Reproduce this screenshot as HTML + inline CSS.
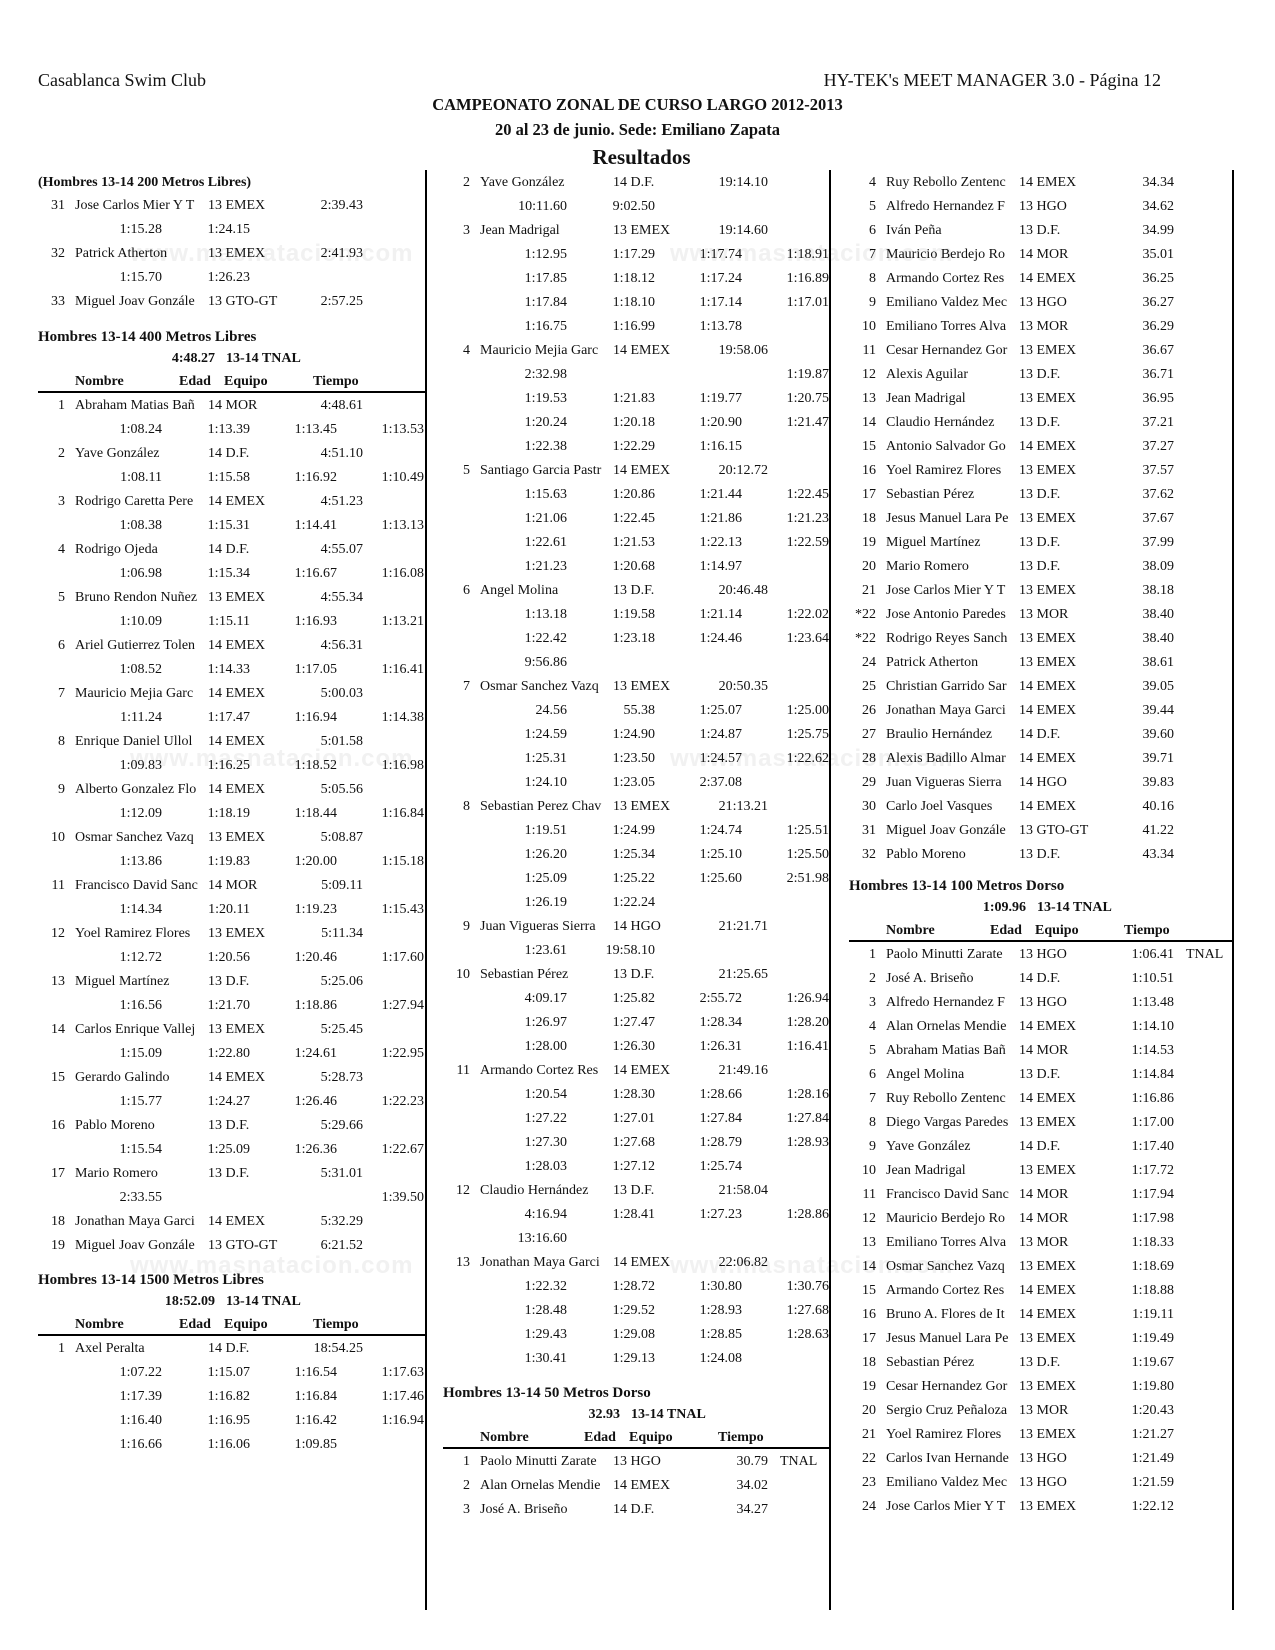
<!DOCTYPE html>
<html><head><meta charset="utf-8">
<style>
*{margin:0;padding:0;box-sizing:border-box}
body{width:1275px;height:1650px;background:#fff;position:relative;overflow:hidden;font-family:"Liberation Serif",serif;color:#111;font-size:14px}
.abs{position:absolute;white-space:nowrap}
.vl{position:absolute;top:170px;height:1440px;width:2px;background:#000}
.col{position:absolute;top:0;height:1650px;overflow:hidden}
.r{position:absolute;left:0;width:420px;height:24px;line-height:24px}
.r span{position:absolute;top:0;white-space:nowrap}
.n{left:0;width:27px;text-align:right}
.m{left:37px;width:131px;overflow:hidden}
.a{left:170px}
.t{left:240px;width:85px;text-align:right}
.x{left:337px}
.s1{left:40px;width:84px;text-align:right}
.s2{left:128px;width:84px;text-align:right}
.s3{left:215px;width:84px;text-align:right}
.s4{left:302px;width:84px;text-align:right}
.h{position:absolute;left:0;height:24px;line-height:24px;font-weight:bold;font-size:15px;white-space:nowrap}
.rec{position:absolute;left:0;width:420px;height:24px;line-height:24px;font-weight:bold;font-size:14px}
.rec span{position:absolute;white-space:nowrap}
.rt{left:100px;width:77px;text-align:right}
.rl{left:188px}
.hd{position:absolute;left:0;width:420px;height:24px;line-height:24px;font-weight:bold;font-size:14px}
.hd span{position:absolute}
.rule{position:absolute;left:0;width:420px;height:2px;background:#000}
.wm{position:absolute;font-family:"Liberation Sans",sans-serif;font-weight:bold;font-size:24px;color:#f1f1f1;white-space:nowrap;letter-spacing:1px}
</style></head><body>

<div class="wm" style="left:130px;top:240px">www.masnatacion.com</div>
<div class="wm" style="left:670px;top:240px">www.masnatacion.com</div>
<div class="wm" style="left:130px;top:745px">www.masnatacion.com</div>
<div class="wm" style="left:670px;top:745px">www.masnatacion.com</div>
<div class="wm" style="left:130px;top:1252px">www.masnatacion.com</div>
<div class="wm" style="left:670px;top:1252px">www.masnatacion.com</div>

<div class="abs" style="left:38px;top:68px;font-size:18px;line-height:24px">Casablanca Swim Club</div>
<div class="abs" style="right:114px;top:68px;font-size:18px;line-height:24px">HY-TEK's MEET MANAGER 3.0 - Página 12</div>
<div class="abs" style="left:0;width:1275px;text-align:center;top:93px;font-size:16.5px;font-weight:bold;line-height:24px">CAMPEONATO ZONAL DE CURSO LARGO 2012-2013</div>
<div class="abs" style="left:0;width:1275px;text-align:center;top:118px;font-size:16.5px;font-weight:bold;line-height:24px">20 al 23 de junio. Sede: Emiliano Zapata</div>
<div class="abs" style="left:0;width:1283px;text-align:center;top:144px;font-size:21px;font-weight:bold;line-height:26px">Resultados</div>

<div class="vl" style="left:425px"></div>
<div class="vl" style="left:829px"></div>
<div class="vl" style="left:1232px"></div>

<!-- COLUMN 1 -->
<div class="col" style="left:38px;width:387px">
<div class="h" style="top:171px;font-size:14px">(Hombres 13-14 200 Metros Libres)</div>
<div class="r" style="top:194px"><span class="n">31</span><span class="m">Jose Carlos Mier Y T</span><span class="a">13 EMEX</span><span class="t">2:39.43</span></div>
<div class="r" style="top:218px"><span class="s1">1:15.28</span><span class="s2">1:24.15</span></div>
<div class="r" style="top:242px"><span class="n">32</span><span class="m">Patrick Atherton</span><span class="a">13 EMEX</span><span class="t">2:41.93</span></div>
<div class="r" style="top:266px"><span class="s1">1:15.70</span><span class="s2">1:26.23</span></div>
<div class="r" style="top:290px"><span class="n">33</span><span class="m">Miguel Joav Gonzále</span><span class="a">13 GTO-GT</span><span class="t">2:57.25</span></div>

<div class="h" style="top:325px">Hombres 13-14 400 Metros Libres</div>
<div class="rec" style="top:347px"><span class="rt">4:48.27</span><span class="rl">13-14 TNAL</span></div>
<div class="hd" style="top:370px"><span style="left:37px">Nombre</span><span style="left:141px">Edad</span><span style="left:186px">Equipo</span><span style="left:275px">Tiempo</span></div>
<div class="rule" style="top:391px"></div>
<div class="r" style="top:394px"><span class="n">1</span><span class="m">Abraham Matias Bañ</span><span class="a">14 MOR</span><span class="t">4:48.61</span></div>
<div class="r" style="top:418px"><span class="s1">1:08.24</span><span class="s2">1:13.39</span><span class="s3">1:13.45</span><span class="s4">1:13.53</span></div>
<div class="r" style="top:442px"><span class="n">2</span><span class="m">Yave González</span><span class="a">14 D.F.</span><span class="t">4:51.10</span></div>
<div class="r" style="top:466px"><span class="s1">1:08.11</span><span class="s2">1:15.58</span><span class="s3">1:16.92</span><span class="s4">1:10.49</span></div>
<div class="r" style="top:490px"><span class="n">3</span><span class="m">Rodrigo Caretta Pere</span><span class="a">14 EMEX</span><span class="t">4:51.23</span></div>
<div class="r" style="top:514px"><span class="s1">1:08.38</span><span class="s2">1:15.31</span><span class="s3">1:14.41</span><span class="s4">1:13.13</span></div>
<div class="r" style="top:538px"><span class="n">4</span><span class="m">Rodrigo Ojeda</span><span class="a">14 D.F.</span><span class="t">4:55.07</span></div>
<div class="r" style="top:562px"><span class="s1">1:06.98</span><span class="s2">1:15.34</span><span class="s3">1:16.67</span><span class="s4">1:16.08</span></div>
<div class="r" style="top:586px"><span class="n">5</span><span class="m">Bruno Rendon Nuñez</span><span class="a">13 EMEX</span><span class="t">4:55.34</span></div>
<div class="r" style="top:610px"><span class="s1">1:10.09</span><span class="s2">1:15.11</span><span class="s3">1:16.93</span><span class="s4">1:13.21</span></div>
<div class="r" style="top:634px"><span class="n">6</span><span class="m">Ariel Gutierrez Tolen</span><span class="a">14 EMEX</span><span class="t">4:56.31</span></div>
<div class="r" style="top:658px"><span class="s1">1:08.52</span><span class="s2">1:14.33</span><span class="s3">1:17.05</span><span class="s4">1:16.41</span></div>
<div class="r" style="top:682px"><span class="n">7</span><span class="m">Mauricio Mejia Garc</span><span class="a">14 EMEX</span><span class="t">5:00.03</span></div>
<div class="r" style="top:706px"><span class="s1">1:11.24</span><span class="s2">1:17.47</span><span class="s3">1:16.94</span><span class="s4">1:14.38</span></div>
<div class="r" style="top:730px"><span class="n">8</span><span class="m">Enrique Daniel Ullol</span><span class="a">14 EMEX</span><span class="t">5:01.58</span></div>
<div class="r" style="top:754px"><span class="s1">1:09.83</span><span class="s2">1:16.25</span><span class="s3">1:18.52</span><span class="s4">1:16.98</span></div>
<div class="r" style="top:778px"><span class="n">9</span><span class="m">Alberto Gonzalez Flo</span><span class="a">14 EMEX</span><span class="t">5:05.56</span></div>
<div class="r" style="top:802px"><span class="s1">1:12.09</span><span class="s2">1:18.19</span><span class="s3">1:18.44</span><span class="s4">1:16.84</span></div>
<div class="r" style="top:826px"><span class="n">10</span><span class="m">Osmar Sanchez Vazq</span><span class="a">13 EMEX</span><span class="t">5:08.87</span></div>
<div class="r" style="top:850px"><span class="s1">1:13.86</span><span class="s2">1:19.83</span><span class="s3">1:20.00</span><span class="s4">1:15.18</span></div>
<div class="r" style="top:874px"><span class="n">11</span><span class="m">Francisco David Sanc</span><span class="a">14 MOR</span><span class="t">5:09.11</span></div>
<div class="r" style="top:898px"><span class="s1">1:14.34</span><span class="s2">1:20.11</span><span class="s3">1:19.23</span><span class="s4">1:15.43</span></div>
<div class="r" style="top:922px"><span class="n">12</span><span class="m">Yoel Ramirez Flores</span><span class="a">13 EMEX</span><span class="t">5:11.34</span></div>
<div class="r" style="top:946px"><span class="s1">1:12.72</span><span class="s2">1:20.56</span><span class="s3">1:20.46</span><span class="s4">1:17.60</span></div>
<div class="r" style="top:970px"><span class="n">13</span><span class="m">Miguel Martínez</span><span class="a">13 D.F.</span><span class="t">5:25.06</span></div>
<div class="r" style="top:994px"><span class="s1">1:16.56</span><span class="s2">1:21.70</span><span class="s3">1:18.86</span><span class="s4">1:27.94</span></div>
<div class="r" style="top:1018px"><span class="n">14</span><span class="m">Carlos Enrique Vallej</span><span class="a">13 EMEX</span><span class="t">5:25.45</span></div>
<div class="r" style="top:1042px"><span class="s1">1:15.09</span><span class="s2">1:22.80</span><span class="s3">1:24.61</span><span class="s4">1:22.95</span></div>
<div class="r" style="top:1066px"><span class="n">15</span><span class="m">Gerardo Galindo</span><span class="a">14 EMEX</span><span class="t">5:28.73</span></div>
<div class="r" style="top:1090px"><span class="s1">1:15.77</span><span class="s2">1:24.27</span><span class="s3">1:26.46</span><span class="s4">1:22.23</span></div>
<div class="r" style="top:1114px"><span class="n">16</span><span class="m">Pablo Moreno</span><span class="a">13 D.F.</span><span class="t">5:29.66</span></div>
<div class="r" style="top:1138px"><span class="s1">1:15.54</span><span class="s2">1:25.09</span><span class="s3">1:26.36</span><span class="s4">1:22.67</span></div>
<div class="r" style="top:1162px"><span class="n">17</span><span class="m">Mario Romero</span><span class="a">13 D.F.</span><span class="t">5:31.01</span></div>
<div class="r" style="top:1186px"><span class="s1">2:33.55</span><span class="s4">1:39.50</span></div>
<div class="r" style="top:1210px"><span class="n">18</span><span class="m">Jonathan Maya Garci</span><span class="a">14 EMEX</span><span class="t">5:32.29</span></div>
<div class="r" style="top:1234px"><span class="n">19</span><span class="m">Miguel Joav Gonzále</span><span class="a">13 GTO-GT</span><span class="t">6:21.52</span></div>

<div class="h" style="top:1268px">Hombres 13-14 1500 Metros Libres</div>
<div class="rec" style="top:1290px"><span class="rt">18:52.09</span><span class="rl">13-14 TNAL</span></div>
<div class="hd" style="top:1313px"><span style="left:37px">Nombre</span><span style="left:141px">Edad</span><span style="left:186px">Equipo</span><span style="left:275px">Tiempo</span></div>
<div class="rule" style="top:1334px"></div>
<div class="r" style="top:1337px"><span class="n">1</span><span class="m">Axel Peralta</span><span class="a">14 D.F.</span><span class="t">18:54.25</span></div>
<div class="r" style="top:1361px"><span class="s1">1:07.22</span><span class="s2">1:15.07</span><span class="s3">1:16.54</span><span class="s4">1:17.63</span></div>
<div class="r" style="top:1385px"><span class="s1">1:17.39</span><span class="s2">1:16.82</span><span class="s3">1:16.84</span><span class="s4">1:17.46</span></div>
<div class="r" style="top:1409px"><span class="s1">1:16.40</span><span class="s2">1:16.95</span><span class="s3">1:16.42</span><span class="s4">1:16.94</span></div>
<div class="r" style="top:1433px"><span class="s1">1:16.66</span><span class="s2">1:16.06</span><span class="s3">1:09.85</span></div>
</div>

<!-- COLUMN 2 -->
<div class="col" style="left:443px;width:386px">
<div class="r" style="top:171px"><span class="n">2</span><span class="m">Yave González</span><span class="a">14 D.F.</span><span class="t">19:14.10</span></div>
<div class="r" style="top:195px"><span class="s1">10:11.60</span><span class="s2">9:02.50</span></div>
<div class="r" style="top:219px"><span class="n">3</span><span class="m">Jean Madrigal</span><span class="a">13 EMEX</span><span class="t">19:14.60</span></div>
<div class="r" style="top:243px"><span class="s1">1:12.95</span><span class="s2">1:17.29</span><span class="s3">1:17.74</span><span class="s4">1:18.91</span></div>
<div class="r" style="top:267px"><span class="s1">1:17.85</span><span class="s2">1:18.12</span><span class="s3">1:17.24</span><span class="s4">1:16.89</span></div>
<div class="r" style="top:291px"><span class="s1">1:17.84</span><span class="s2">1:18.10</span><span class="s3">1:17.14</span><span class="s4">1:17.01</span></div>
<div class="r" style="top:315px"><span class="s1">1:16.75</span><span class="s2">1:16.99</span><span class="s3">1:13.78</span></div>
<div class="r" style="top:339px"><span class="n">4</span><span class="m">Mauricio Mejia Garc</span><span class="a">14 EMEX</span><span class="t">19:58.06</span></div>
<div class="r" style="top:363px"><span class="s1">2:32.98</span><span class="s4">1:19.87</span></div>
<div class="r" style="top:387px"><span class="s1">1:19.53</span><span class="s2">1:21.83</span><span class="s3">1:19.77</span><span class="s4">1:20.75</span></div>
<div class="r" style="top:411px"><span class="s1">1:20.24</span><span class="s2">1:20.18</span><span class="s3">1:20.90</span><span class="s4">1:21.47</span></div>
<div class="r" style="top:435px"><span class="s1">1:22.38</span><span class="s2">1:22.29</span><span class="s3">1:16.15</span></div>
<div class="r" style="top:459px"><span class="n">5</span><span class="m">Santiago Garcia Pastr</span><span class="a">14 EMEX</span><span class="t">20:12.72</span></div>
<div class="r" style="top:483px"><span class="s1">1:15.63</span><span class="s2">1:20.86</span><span class="s3">1:21.44</span><span class="s4">1:22.45</span></div>
<div class="r" style="top:507px"><span class="s1">1:21.06</span><span class="s2">1:22.45</span><span class="s3">1:21.86</span><span class="s4">1:21.23</span></div>
<div class="r" style="top:531px"><span class="s1">1:22.61</span><span class="s2">1:21.53</span><span class="s3">1:22.13</span><span class="s4">1:22.59</span></div>
<div class="r" style="top:555px"><span class="s1">1:21.23</span><span class="s2">1:20.68</span><span class="s3">1:14.97</span></div>
<div class="r" style="top:579px"><span class="n">6</span><span class="m">Angel Molina</span><span class="a">13 D.F.</span><span class="t">20:46.48</span></div>
<div class="r" style="top:603px"><span class="s1">1:13.18</span><span class="s2">1:19.58</span><span class="s3">1:21.14</span><span class="s4">1:22.02</span></div>
<div class="r" style="top:627px"><span class="s1">1:22.42</span><span class="s2">1:23.18</span><span class="s3">1:24.46</span><span class="s4">1:23.64</span></div>
<div class="r" style="top:651px"><span class="s1">9:56.86</span></div>
<div class="r" style="top:675px"><span class="n">7</span><span class="m">Osmar Sanchez Vazq</span><span class="a">13 EMEX</span><span class="t">20:50.35</span></div>
<div class="r" style="top:699px"><span class="s1">24.56</span><span class="s2">55.38</span><span class="s3">1:25.07</span><span class="s4">1:25.00</span></div>
<div class="r" style="top:723px"><span class="s1">1:24.59</span><span class="s2">1:24.90</span><span class="s3">1:24.87</span><span class="s4">1:25.75</span></div>
<div class="r" style="top:747px"><span class="s1">1:25.31</span><span class="s2">1:23.50</span><span class="s3">1:24.57</span><span class="s4">1:22.62</span></div>
<div class="r" style="top:771px"><span class="s1">1:24.10</span><span class="s2">1:23.05</span><span class="s3">2:37.08</span></div>
<div class="r" style="top:795px"><span class="n">8</span><span class="m">Sebastian Perez Chav</span><span class="a">13 EMEX</span><span class="t">21:13.21</span></div>
<div class="r" style="top:819px"><span class="s1">1:19.51</span><span class="s2">1:24.99</span><span class="s3">1:24.74</span><span class="s4">1:25.51</span></div>
<div class="r" style="top:843px"><span class="s1">1:26.20</span><span class="s2">1:25.34</span><span class="s3">1:25.10</span><span class="s4">1:25.50</span></div>
<div class="r" style="top:867px"><span class="s1">1:25.09</span><span class="s2">1:25.22</span><span class="s3">1:25.60</span><span class="s4">2:51.98</span></div>
<div class="r" style="top:891px"><span class="s1">1:26.19</span><span class="s2">1:22.24</span></div>
<div class="r" style="top:915px"><span class="n">9</span><span class="m">Juan Vigueras Sierra</span><span class="a">14 HGO</span><span class="t">21:21.71</span></div>
<div class="r" style="top:939px"><span class="s1">1:23.61</span><span class="s2">19:58.10</span></div>
<div class="r" style="top:963px"><span class="n">10</span><span class="m">Sebastian Pérez</span><span class="a">13 D.F.</span><span class="t">21:25.65</span></div>
<div class="r" style="top:987px"><span class="s1">4:09.17</span><span class="s2">1:25.82</span><span class="s3">2:55.72</span><span class="s4">1:26.94</span></div>
<div class="r" style="top:1011px"><span class="s1">1:26.97</span><span class="s2">1:27.47</span><span class="s3">1:28.34</span><span class="s4">1:28.20</span></div>
<div class="r" style="top:1035px"><span class="s1">1:28.00</span><span class="s2">1:26.30</span><span class="s3">1:26.31</span><span class="s4">1:16.41</span></div>
<div class="r" style="top:1059px"><span class="n">11</span><span class="m">Armando Cortez Res</span><span class="a">14 EMEX</span><span class="t">21:49.16</span></div>
<div class="r" style="top:1083px"><span class="s1">1:20.54</span><span class="s2">1:28.30</span><span class="s3">1:28.66</span><span class="s4">1:28.16</span></div>
<div class="r" style="top:1107px"><span class="s1">1:27.22</span><span class="s2">1:27.01</span><span class="s3">1:27.84</span><span class="s4">1:27.84</span></div>
<div class="r" style="top:1131px"><span class="s1">1:27.30</span><span class="s2">1:27.68</span><span class="s3">1:28.79</span><span class="s4">1:28.93</span></div>
<div class="r" style="top:1155px"><span class="s1">1:28.03</span><span class="s2">1:27.12</span><span class="s3">1:25.74</span></div>
<div class="r" style="top:1179px"><span class="n">12</span><span class="m">Claudio Hernández</span><span class="a">13 D.F.</span><span class="t">21:58.04</span></div>
<div class="r" style="top:1203px"><span class="s1">4:16.94</span><span class="s2">1:28.41</span><span class="s3">1:27.23</span><span class="s4">1:28.86</span></div>
<div class="r" style="top:1227px"><span class="s1">13:16.60</span></div>
<div class="r" style="top:1251px"><span class="n">13</span><span class="m">Jonathan Maya Garci</span><span class="a">14 EMEX</span><span class="t">22:06.82</span></div>
<div class="r" style="top:1275px"><span class="s1">1:22.32</span><span class="s2">1:28.72</span><span class="s3">1:30.80</span><span class="s4">1:30.76</span></div>
<div class="r" style="top:1299px"><span class="s1">1:28.48</span><span class="s2">1:29.52</span><span class="s3">1:28.93</span><span class="s4">1:27.68</span></div>
<div class="r" style="top:1323px"><span class="s1">1:29.43</span><span class="s2">1:29.08</span><span class="s3">1:28.85</span><span class="s4">1:28.63</span></div>
<div class="r" style="top:1347px"><span class="s1">1:30.41</span><span class="s2">1:29.13</span><span class="s3">1:24.08</span></div>

<div class="h" style="top:1381px">Hombres 13-14 50 Metros Dorso</div>
<div class="rec" style="top:1403px"><span class="rt">32.93</span><span class="rl">13-14 TNAL</span></div>
<div class="hd" style="top:1426px"><span style="left:37px">Nombre</span><span style="left:141px">Edad</span><span style="left:186px">Equipo</span><span style="left:275px">Tiempo</span></div>
<div class="rule" style="top:1447px"></div>
<div class="r" style="top:1450px"><span class="n">1</span><span class="m">Paolo Minutti Zarate</span><span class="a">13 HGO</span><span class="t">30.79</span><span class="x">TNAL</span></div>
<div class="r" style="top:1474px"><span class="n">2</span><span class="m">Alan Ornelas Mendie</span><span class="a">14 EMEX</span><span class="t">34.02</span></div>
<div class="r" style="top:1498px"><span class="n">3</span><span class="m">José A. Briseño</span><span class="a">14 D.F.</span><span class="t">34.27</span></div>
</div>

<!-- COLUMN 3 -->
<div class="col" style="left:849px;width:383px">
<div class="r" style="top:171px"><span class="n">4</span><span class="m">Ruy Rebollo Zentenc</span><span class="a">14 EMEX</span><span class="t">34.34</span></div>
<div class="r" style="top:195px"><span class="n">5</span><span class="m">Alfredo Hernandez F</span><span class="a">13 HGO</span><span class="t">34.62</span></div>
<div class="r" style="top:219px"><span class="n">6</span><span class="m">Iván Peña</span><span class="a">13 D.F.</span><span class="t">34.99</span></div>
<div class="r" style="top:243px"><span class="n">7</span><span class="m">Mauricio Berdejo Ro</span><span class="a">14 MOR</span><span class="t">35.01</span></div>
<div class="r" style="top:267px"><span class="n">8</span><span class="m">Armando Cortez Res</span><span class="a">14 EMEX</span><span class="t">36.25</span></div>
<div class="r" style="top:291px"><span class="n">9</span><span class="m">Emiliano Valdez Mec</span><span class="a">13 HGO</span><span class="t">36.27</span></div>
<div class="r" style="top:315px"><span class="n">10</span><span class="m">Emiliano Torres Alva</span><span class="a">13 MOR</span><span class="t">36.29</span></div>
<div class="r" style="top:339px"><span class="n">11</span><span class="m">Cesar Hernandez Gor</span><span class="a">13 EMEX</span><span class="t">36.67</span></div>
<div class="r" style="top:363px"><span class="n">12</span><span class="m">Alexis Aguilar</span><span class="a">13 D.F.</span><span class="t">36.71</span></div>
<div class="r" style="top:387px"><span class="n">13</span><span class="m">Jean Madrigal</span><span class="a">13 EMEX</span><span class="t">36.95</span></div>
<div class="r" style="top:411px"><span class="n">14</span><span class="m">Claudio Hernández</span><span class="a">13 D.F.</span><span class="t">37.21</span></div>
<div class="r" style="top:435px"><span class="n">15</span><span class="m">Antonio Salvador Go</span><span class="a">14 EMEX</span><span class="t">37.27</span></div>
<div class="r" style="top:459px"><span class="n">16</span><span class="m">Yoel Ramirez Flores</span><span class="a">13 EMEX</span><span class="t">37.57</span></div>
<div class="r" style="top:483px"><span class="n">17</span><span class="m">Sebastian Pérez</span><span class="a">13 D.F.</span><span class="t">37.62</span></div>
<div class="r" style="top:507px"><span class="n">18</span><span class="m">Jesus Manuel Lara Pe</span><span class="a">13 EMEX</span><span class="t">37.67</span></div>
<div class="r" style="top:531px"><span class="n">19</span><span class="m">Miguel Martínez</span><span class="a">13 D.F.</span><span class="t">37.99</span></div>
<div class="r" style="top:555px"><span class="n">20</span><span class="m">Mario Romero</span><span class="a">13 D.F.</span><span class="t">38.09</span></div>
<div class="r" style="top:579px"><span class="n">21</span><span class="m">Jose Carlos Mier Y T</span><span class="a">13 EMEX</span><span class="t">38.18</span></div>
<div class="r" style="top:603px"><span class="n">*22</span><span class="m">Jose Antonio Paredes</span><span class="a">13 MOR</span><span class="t">38.40</span></div>
<div class="r" style="top:627px"><span class="n">*22</span><span class="m">Rodrigo Reyes Sanch</span><span class="a">13 EMEX</span><span class="t">38.40</span></div>
<div class="r" style="top:651px"><span class="n">24</span><span class="m">Patrick Atherton</span><span class="a">13 EMEX</span><span class="t">38.61</span></div>
<div class="r" style="top:675px"><span class="n">25</span><span class="m">Christian Garrido Sar</span><span class="a">14 EMEX</span><span class="t">39.05</span></div>
<div class="r" style="top:699px"><span class="n">26</span><span class="m">Jonathan Maya Garci</span><span class="a">14 EMEX</span><span class="t">39.44</span></div>
<div class="r" style="top:723px"><span class="n">27</span><span class="m">Braulio Hernández</span><span class="a">14 D.F.</span><span class="t">39.60</span></div>
<div class="r" style="top:747px"><span class="n">28</span><span class="m">Alexis Badillo Almar</span><span class="a">14 EMEX</span><span class="t">39.71</span></div>
<div class="r" style="top:771px"><span class="n">29</span><span class="m">Juan Vigueras Sierra</span><span class="a">14 HGO</span><span class="t">39.83</span></div>
<div class="r" style="top:795px"><span class="n">30</span><span class="m">Carlo Joel Vasques</span><span class="a">14 EMEX</span><span class="t">40.16</span></div>
<div class="r" style="top:819px"><span class="n">31</span><span class="m">Miguel Joav Gonzále</span><span class="a">13 GTO-GT</span><span class="t">41.22</span></div>
<div class="r" style="top:843px"><span class="n">32</span><span class="m">Pablo Moreno</span><span class="a">13 D.F.</span><span class="t">43.34</span></div>

<div class="h" style="top:874px">Hombres 13-14 100 Metros Dorso</div>
<div class="rec" style="top:896px"><span class="rt">1:09.96</span><span class="rl">13-14 TNAL</span></div>
<div class="hd" style="top:919px"><span style="left:37px">Nombre</span><span style="left:141px">Edad</span><span style="left:186px">Equipo</span><span style="left:275px">Tiempo</span></div>
<div class="rule" style="top:940px"></div>
<div class="r" style="top:943px"><span class="n">1</span><span class="m">Paolo Minutti Zarate</span><span class="a">13 HGO</span><span class="t">1:06.41</span><span class="x">TNAL</span></div>
<div class="r" style="top:967px"><span class="n">2</span><span class="m">José A. Briseño</span><span class="a">14 D.F.</span><span class="t">1:10.51</span></div>
<div class="r" style="top:991px"><span class="n">3</span><span class="m">Alfredo Hernandez F</span><span class="a">13 HGO</span><span class="t">1:13.48</span></div>
<div class="r" style="top:1015px"><span class="n">4</span><span class="m">Alan Ornelas Mendie</span><span class="a">14 EMEX</span><span class="t">1:14.10</span></div>
<div class="r" style="top:1039px"><span class="n">5</span><span class="m">Abraham Matias Bañ</span><span class="a">14 MOR</span><span class="t">1:14.53</span></div>
<div class="r" style="top:1063px"><span class="n">6</span><span class="m">Angel Molina</span><span class="a">13 D.F.</span><span class="t">1:14.84</span></div>
<div class="r" style="top:1087px"><span class="n">7</span><span class="m">Ruy Rebollo Zentenc</span><span class="a">14 EMEX</span><span class="t">1:16.86</span></div>
<div class="r" style="top:1111px"><span class="n">8</span><span class="m">Diego Vargas Paredes</span><span class="a">13 EMEX</span><span class="t">1:17.00</span></div>
<div class="r" style="top:1135px"><span class="n">9</span><span class="m">Yave González</span><span class="a">14 D.F.</span><span class="t">1:17.40</span></div>
<div class="r" style="top:1159px"><span class="n">10</span><span class="m">Jean Madrigal</span><span class="a">13 EMEX</span><span class="t">1:17.72</span></div>
<div class="r" style="top:1183px"><span class="n">11</span><span class="m">Francisco David Sanc</span><span class="a">14 MOR</span><span class="t">1:17.94</span></div>
<div class="r" style="top:1207px"><span class="n">12</span><span class="m">Mauricio Berdejo Ro</span><span class="a">14 MOR</span><span class="t">1:17.98</span></div>
<div class="r" style="top:1231px"><span class="n">13</span><span class="m">Emiliano Torres Alva</span><span class="a">13 MOR</span><span class="t">1:18.33</span></div>
<div class="r" style="top:1255px"><span class="n">14</span><span class="m">Osmar Sanchez Vazq</span><span class="a">13 EMEX</span><span class="t">1:18.69</span></div>
<div class="r" style="top:1279px"><span class="n">15</span><span class="m">Armando Cortez Res</span><span class="a">14 EMEX</span><span class="t">1:18.88</span></div>
<div class="r" style="top:1303px"><span class="n">16</span><span class="m">Bruno A. Flores de It</span><span class="a">14 EMEX</span><span class="t">1:19.11</span></div>
<div class="r" style="top:1327px"><span class="n">17</span><span class="m">Jesus Manuel Lara Pe</span><span class="a">13 EMEX</span><span class="t">1:19.49</span></div>
<div class="r" style="top:1351px"><span class="n">18</span><span class="m">Sebastian Pérez</span><span class="a">13 D.F.</span><span class="t">1:19.67</span></div>
<div class="r" style="top:1375px"><span class="n">19</span><span class="m">Cesar Hernandez Gor</span><span class="a">13 EMEX</span><span class="t">1:19.80</span></div>
<div class="r" style="top:1399px"><span class="n">20</span><span class="m">Sergio Cruz Peñaloza</span><span class="a">13 MOR</span><span class="t">1:20.43</span></div>
<div class="r" style="top:1423px"><span class="n">21</span><span class="m">Yoel Ramirez Flores</span><span class="a">13 EMEX</span><span class="t">1:21.27</span></div>
<div class="r" style="top:1447px"><span class="n">22</span><span class="m">Carlos Ivan Hernande</span><span class="a">13 HGO</span><span class="t">1:21.49</span></div>
<div class="r" style="top:1471px"><span class="n">23</span><span class="m">Emiliano Valdez Mec</span><span class="a">13 HGO</span><span class="t">1:21.59</span></div>
<div class="r" style="top:1495px"><span class="n">24</span><span class="m">Jose Carlos Mier Y T</span><span class="a">13 EMEX</span><span class="t">1:22.12</span></div>
</div>

</body></html>
